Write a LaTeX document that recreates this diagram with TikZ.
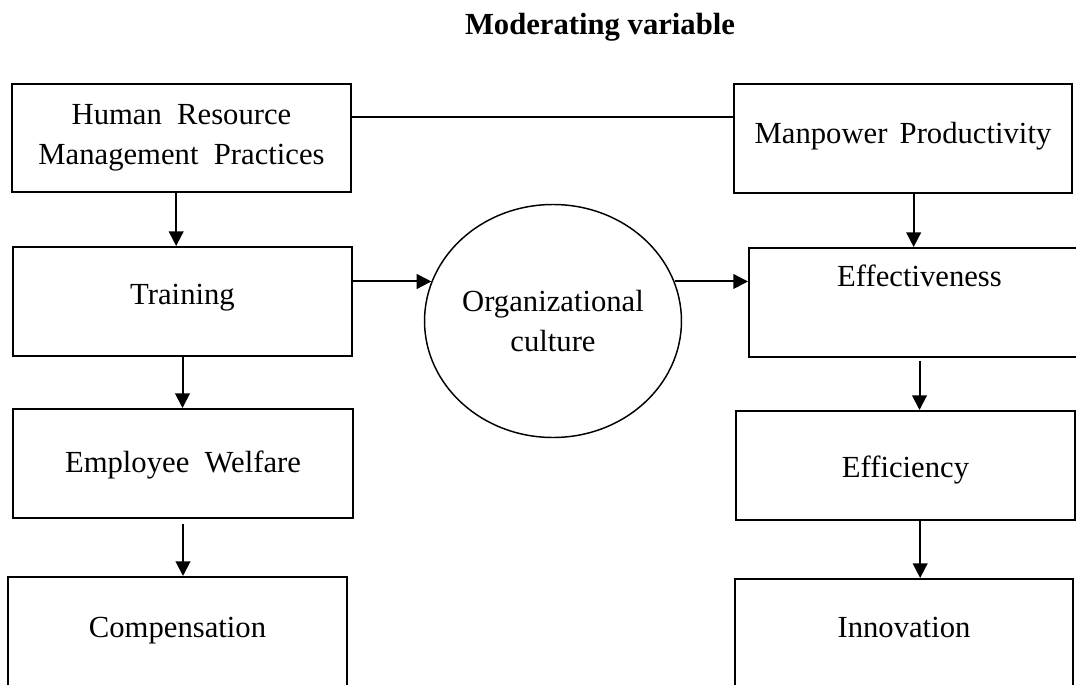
\documentclass[tikz,border=0pt]{standalone}
\usepackage{fontspec}
\setmainfont{Liberation Serif}
\usepackage{tikz}
\usetikzlibrary{positioning, arrows.meta, shapes.geometric, calc}

\begin{document}
\begin{tikzpicture}[x=0.75pt,y=-0.75pt,
        box/.style={draw, line width=1.5pt, inner sep=0pt, font=\fontsize{23}{30}\selectfont},
        arr/.style={line width=1.5pt, -{Triangle[length=11pt,width=11pt]}}]
        % Page frame (boxes at the bottom run off the page)
        \useasboundingbox (0,0) rectangle (1076,685);
        \clip (0,0) rectangle (1076,685);

        % Title
        \node[anchor=base, font=\fontsize{23}{30}\selectfont\bfseries] (title) at (600,35) {Moderating variable};

        % Left column
        \node[box, align=center, minimum width=254.25pt, minimum height=81pt] (hrm) at (181.5,138)
            {Human\ \ Resource\\Management\ \ Practices};
        \node[box, minimum width=254.25pt, text height=42.75pt, text depth=39pt] (train) at (182.5,301.5) {Training};
        \node[box, minimum width=255pt, text height=47.25pt, text depth=34.5pt] (wel) at (183,463.5) {Employee\ \ Welfare};
        \node[box, minimum width=254.25pt, text height=45pt, text depth=39.75pt] (comp) at (177.5,633.5) {Compensation};

        % Moderator in the middle
        \node[box, ellipse, line width=1.1pt, align=center, minimum width=186pt, minimum height=174.75pt] (org) at (553,321)
            {Organizational\\culture};

        % Right column
        \node[box, minimum width=253.5pt, text height=45pt, text depth=36.75pt] (mp) at (903,138.5) {Manpower\hspace{.4em}Productivity};
        \node[box, minimum width=255.75pt, text height=28.5pt, text depth=53.25pt] (eff) at (919.5,302.5) {Effectiveness};
        \node[box, minimum width=254.25pt, text height=49.5pt, text depth=32.25pt] (effi) at (905.5,465.5) {Efficiency};
        \node[box, minimum width=253.5pt, text height=43.5pt, text depth=39.75pt] (inno) at (904,634.5) {Innovation};

        % Link between the two top boxes
        \draw[line width=1.2pt] ([yshift=15.75pt]hrm.east) -- ([yshift=15.75pt]hrm.east -| mp.west);

        % Arrows down the left column
        \draw[arr] ([xshift=-4pt]hrm.south) -- ([xshift=-4pt]hrm.south |- train.north);
        \draw[arr] (train.south) -- (train.south |- wel.north);
        \draw[arr, shorten <=4pt] (wel.south) -- (wel.south |- comp.north);

        % Arrows through the moderator
        \draw[arr] (org.162 -| train.east) -- (org.162);
        \draw[arr] (org.18) -- (org.18 -| eff.west);

        % Arrows down the right column
        \draw[arr] ([xshift=8pt]mp.south) -- ([xshift=8pt]mp.south |- eff.north);
        \draw[arr, shorten <=2pt] (eff.south) -- (eff.south |- effi.north);
        \draw[arr] ([xshift=11pt]effi.south) -- ([xshift=11pt]effi.south |- inno.north);
    \end{tikzpicture}
\end{document}
